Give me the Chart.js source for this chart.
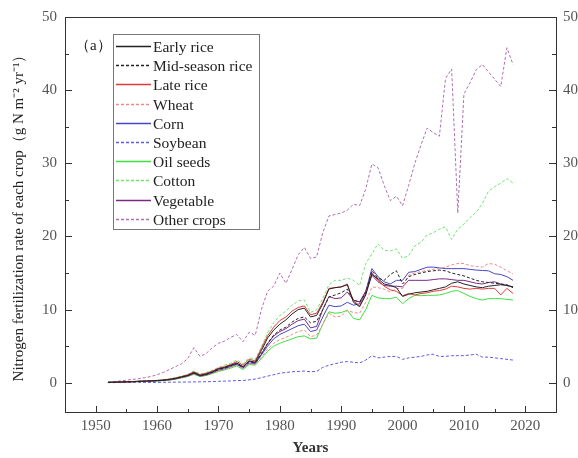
<!DOCTYPE html>
<html>
<head>
<meta charset="utf-8">
<script src="https://cdn.jsdelivr.net/npm/chart.js@4.4.0/dist/chart.umd.min.js"></script>
<style>
html,body{margin:0;padding:0;background:#fff;}
#wrap{width:578px;height:458px;position:relative;}
</style>
</head>
<body>
<div id="wrap"><canvas id="c"></canvas></div>
<script>
const years = [1952,1953,1954,1955,1956,1957,1958,1959,1960,1961,1962,1963,1964,1965,1966,1967,1968,1969,1970,1971,1972,1973,1974,1975,1976,
1977,1978,1979,1980,1981,1982,1983,1984,1985,1986,1987,1988,1989,1990,1991,1992,1993,1994,1995,1996,1997,1998,1999,2000,2001,2002,2003,2004,2005,2006,2007,2008,2009,2010,2011,2012,2013,2014,2015,2016,2017,2018];

const earlyRice = [0.05,0.08,0.1,0.12,0.15,0.2,0.22,0.25,0.3,0.35,0.45,0.6,0.8,1.0,1.4,1.0,1.2,1.5,1.9,2.1,2.4,2.7,2.2,3.0,2.8,
4.4,6.1,7.2,8.0,8.6,9.4,10.0,10.2,9.0,9.2,10.8,12.8,13.0,13.1,13.4,11.0,10.4,12.0,14.8,14.2,13.5,13.3,13.0,11.8,12.1,12.3,12.4,12.5,12.7,12.9,13.1,13.6,13.8,13.5,13.3,13.1,13.0,13.2,13.3,13.4,13.3,13.1];
const midRice = [0.05,0.07,0.09,0.11,0.14,0.18,0.2,0.23,0.28,0.33,0.42,0.55,0.75,0.95,1.3,0.95,1.1,1.4,1.8,2.0,2.3,2.6,2.1,2.9,2.7,
4.0,5.4,6.5,7.2,7.6,8.3,8.8,9.0,8.2,8.4,10.0,11.7,12.0,12.3,12.8,11.3,11.0,12.3,15.3,14.3,14.0,14.8,15.3,13.5,14.5,14.8,15.0,15.2,15.3,15.4,15.3,15.0,14.8,14.6,14.3,14.0,13.8,13.7,13.6,13.5,13.4,13.0];
const lateRice = [0.05,0.08,0.1,0.13,0.16,0.2,0.23,0.26,0.32,0.38,0.5,0.65,0.85,1.1,1.5,1.1,1.3,1.6,2.0,2.2,2.5,2.9,2.4,3.2,3.0,
4.7,6.4,7.6,8.5,9.0,9.8,10.3,10.5,9.3,9.5,11.0,12.9,13.0,13.1,13.5,11.2,10.5,12.2,15.0,14.0,13.2,12.7,12.5,11.9,12.2,12.0,12.2,12.3,12.5,12.6,12.8,13.2,13.1,12.9,12.8,12.9,12.8,12.9,12.9,12.0,12.9,12.2];
const wheat = [0.04,0.06,0.08,0.1,0.12,0.16,0.18,0.2,0.25,0.3,0.38,0.5,0.7,0.9,1.2,0.9,1.0,1.3,1.6,1.8,2.1,2.4,1.9,2.6,2.5,
3.5,4.6,5.4,5.9,6.2,6.6,7.0,7.2,6.3,6.5,8.0,9.5,9.0,9.1,9.9,9.6,9.5,11.0,13.1,13.0,12.8,12.4,12.9,12.9,14.7,15.0,15.2,15.35,15.5,15.6,15.8,16.1,16.3,16.3,16.0,15.9,15.8,16.3,16.2,15.8,15.3,14.9];
const corn = [0.04,0.07,0.09,0.11,0.13,0.17,0.2,0.22,0.27,0.32,0.4,0.52,0.72,0.9,1.25,0.9,1.05,1.35,1.7,1.9,2.2,2.5,2.0,2.7,2.6,
3.8,5.0,6.0,6.6,7.0,7.4,7.8,8.0,7.0,7.2,9.0,10.6,10.4,10.5,11.0,10.6,10.8,12.5,15.6,14.5,13.8,13.5,14.0,14.0,15.1,15.2,15.5,15.8,15.8,15.7,15.6,15.6,15.6,15.6,15.5,15.4,15.35,15.3,14.9,14.8,14.5,14.0];
const soybean = [0.02,0.02,0.03,0.03,0.04,0.04,0.05,0.05,0.05,0.06,0.07,0.08,0.09,0.1,0.12,0.12,0.14,0.16,0.2,0.22,0.25,0.3,0.3,0.4,0.5,
0.7,0.9,1.1,1.3,1.4,1.5,1.55,1.6,1.5,1.55,2.1,2.4,2.6,2.8,2.9,2.8,2.7,3.1,3.7,3.4,3.5,3.6,3.6,3.2,3.4,3.5,3.6,3.8,3.9,3.6,3.6,3.7,3.7,3.7,3.8,3.9,3.5,3.5,3.4,3.3,3.2,3.1];
const oilSeeds = [0.04,0.06,0.08,0.1,0.12,0.15,0.17,0.2,0.24,0.28,0.36,0.48,0.65,0.85,1.15,0.85,1.0,1.25,1.55,1.75,2.0,2.3,1.8,2.5,2.4,
3.3,4.3,5.0,5.4,5.7,6.0,6.3,6.4,6.0,6.1,8.0,9.7,9.5,9.6,9.9,8.8,8.6,10.0,11.95,11.6,11.5,11.5,11.7,10.8,11.5,11.95,11.9,11.95,11.95,12.0,12.2,12.5,12.6,12.2,11.8,11.5,11.3,11.5,11.5,11.5,11.4,11.3];
const cotton = [0.06,0.09,0.12,0.14,0.17,0.22,0.25,0.28,0.34,0.4,0.52,0.7,0.9,1.15,1.6,1.2,1.4,1.7,2.1,2.4,2.7,3.1,2.6,3.4,3.2,
4.9,6.8,8.2,9.2,9.8,10.6,11.2,11.3,9.6,10.0,11.5,13.4,14.0,14.0,14.3,14.0,13.3,16.3,17.6,19.0,18.1,18.0,18.3,17.0,17.4,18.7,19.2,20.2,20.5,21.0,21.3,19.6,21.0,21.7,22.6,23.3,24.5,26.2,26.8,27.3,27.9,27.3];
const vegetable = [0.05,0.08,0.1,0.12,0.15,0.19,0.21,0.24,0.29,0.34,0.44,0.58,0.78,1.0,1.35,1.0,1.15,1.45,1.85,2.05,2.35,2.65,2.15,2.9,2.75,
3.9,5.3,6.4,7.0,7.4,8.0,8.5,8.7,7.5,7.7,10.0,11.8,11.5,11.6,12.4,11.3,11.05,12.5,14.7,13.8,13.3,13.2,13.2,13.1,14.0,14.0,14.0,14.0,14.1,14.2,14.2,14.1,14.0,14.0,13.8,13.6,13.5,13.7,13.8,13.5,13.3,13.1];
const otherCrops = [0.05,0.15,0.25,0.35,0.45,0.55,0.7,0.85,1.1,1.4,1.8,2.2,2.6,3.3,4.8,3.6,4.0,4.8,5.4,5.7,6.2,6.6,5.6,6.9,6.5,
10.0,12.5,13.2,15.0,13.6,15.5,17.5,18.5,17.0,17.2,20.5,22.8,23.0,23.2,23.6,24.4,24.2,26.5,29.9,29.4,27.0,24.9,25.5,24.2,27.0,30.0,32.5,34.8,34.2,33.7,41.6,42.9,23.2,39.5,41.0,42.8,43.5,42.5,41.5,40.5,45.8,43.5];

const seriesNames = ["Early rice","Mid-season rice","Late rice","Wheat","Corn","Soybean","Oil seeds","Cotton","Vegetable","Other crops"];
const seriesValues = [earlyRice,midRice,lateRice,wheat,corn,soybean,oilSeeds,cotton,vegetable,otherCrops];
const xTicks = [1950,1960,1970,1980,1990,2000,2010,2020];
const yTicks = [0,10,20,30,40,50];
const panelLabel = "（a）";
const xTitle = "Years";
const yTitle = "Nitrogen fertilization rate of each crop（g N m\u207B\u00B2 yr\u207B\u00B9）";

const colors = ["#222222","#222222","#e23a3a","#f08a8a","#4646c8","#5b5be0","#3fe03f","#6ee66e","#7a2a82","#b070b0"];
const dashes = [[],[3,2],[],[3,2],[],[3,2],[],[3,2],[],[3,2]];

const FONT = "'Liberation Serif','Times New Roman',serif";

const datasets = seriesNames.map((n,i)=>({
  label:n,
  data: years.map((yr,j)=>({x:yr,y:seriesValues[i][j]})),
  borderColor: colors[i],
  borderWidth: 1,
  borderDash: dashes[i],
  pointRadius: 0,
  fill:false,
  tension:0
}));

const framePlugin = {
  id:'frame',
  afterDraw(chart){
    const {ctx, chartArea:a, scales} = chart;
    const x = scales.x, y = scales.y;
    ctx.save();
    ctx.strokeStyle = '#333';
    ctx.lineWidth = 1;
    ctx.setLineDash([]);
    ctx.strokeRect(Math.round(a.left)+0.5, Math.round(a.top)+0.5, Math.round(a.right-a.left), Math.round(a.bottom-a.top));
    ctx.beginPath();
    for (let k=0;k<xTicks.length;k++){
      const vals = [xTicks[k], xTicks[k]+5];
      vals.forEach((v,m)=>{
        if (v<=x.min || v>=x.max) return;
        const px = Math.round(x.getPixelForValue(v))+0.5;
        const len = m===0?6:3;
        ctx.moveTo(px, a.bottom); ctx.lineTo(px, a.bottom-len);
      });
    }
    for (let k=0;k<yTicks.length;k++){
      const vals = [yTicks[k], yTicks[k]+5];
      vals.forEach((v,m)=>{
        if (v<y.min || v>=y.max) return;
        const py = Math.round(y.getPixelForValue(v))+0.5;
        const len = m===0?7:4;
        ctx.moveTo(a.left, py); ctx.lineTo(a.left+len, py);
        ctx.moveTo(a.right, py); ctx.lineTo(a.right-len, py);
      });
    }
    ctx.stroke();

    ctx.fillStyle = '#222';
    ctx.font = "15px " + FONT;
    ctx.textBaseline = 'middle';
    ctx.textAlign = 'left';
    ctx.fillText(panelLabel, 75, 46);

    const bx = 113.5, by = 34.5, bw = 146, bh = 195;
    ctx.fillStyle = '#fff';
    ctx.fillRect(bx,by,bw,bh);
    ctx.strokeStyle = '#777';
    ctx.strokeRect(bx,by,bw,bh);
    ctx.font = "15.5px " + FONT;
    chart.data.datasets.forEach((ds,i)=>{
      const ry = Math.round(46 + i*19.2);
      ctx.strokeStyle = colors[i];
      ctx.lineWidth = 1.3;
      ctx.setLineDash(dashes[i]);
      ctx.beginPath(); ctx.moveTo(116, ry+0.5); ctx.lineTo(151, ry+0.5); ctx.stroke();
      ctx.setLineDash([]);
      ctx.fillStyle = '#222';
      ctx.fillText(ds.label, 153, ry+1.5);
    });
    ctx.restore();
  }
};

const tickFont = {family:FONT, size:15};
new Chart(document.getElementById('c'),{
  type:'line',
  data:{datasets},
  options:{
    responsive:true,
    maintainAspectRatio:false,
    animation:false,
    layout:{padding:{top:15,left:0,right:0,bottom:0}},
    plugins:{legend:{display:false}, tooltip:{enabled:false}},
    scales:{
      x:{
        type:'linear', min:1945, max:2025,
        afterBuildTicks(s){ s.ticks = xTicks.map(v=>({value:v})); },
        afterFit(s){ s.height = 46; },
        grid:{display:false, drawTicks:false},
        border:{display:false},
        ticks:{font:tickFont, color:'#555', padding:5, maxRotation:0, autoSkip:false, callback:(v)=>String(v)},
        title:{display:true, text:xTitle, font:{family:FONT, size:15, weight:'bold'}, color:'#333', padding:{top:0,bottom:1}}
      },
      y:{
        type:'linear', position:'left', min:-4, max:50,
        afterBuildTicks(s){ s.ticks = yTicks.map(v=>({value:v})); },
        afterFit(s){ s.width = 65; },
        grid:{display:false, drawTicks:false},
        border:{display:false},
        ticks:{font:tickFont, color:'#555', padding:8, callback:(v)=>String(v)},
        title:{display:true, text:yTitle, font:{family:FONT, size:15}, color:'#222', padding:{top:10,bottom:0}}
      },
      y2:{
        type:'linear', position:'right', min:-4, max:50,
        afterBuildTicks(s){ s.ticks = yTicks.map(v=>({value:v})); },
        afterFit(s){ s.width = 22; },
        grid:{display:false, drawTicks:false},
        border:{display:false},
        ticks:{font:tickFont, color:'#555', padding:7, callback:(v)=>String(v)}
      }
    }
  },
  plugins:[framePlugin]
});
</script>
</body>
</html>
